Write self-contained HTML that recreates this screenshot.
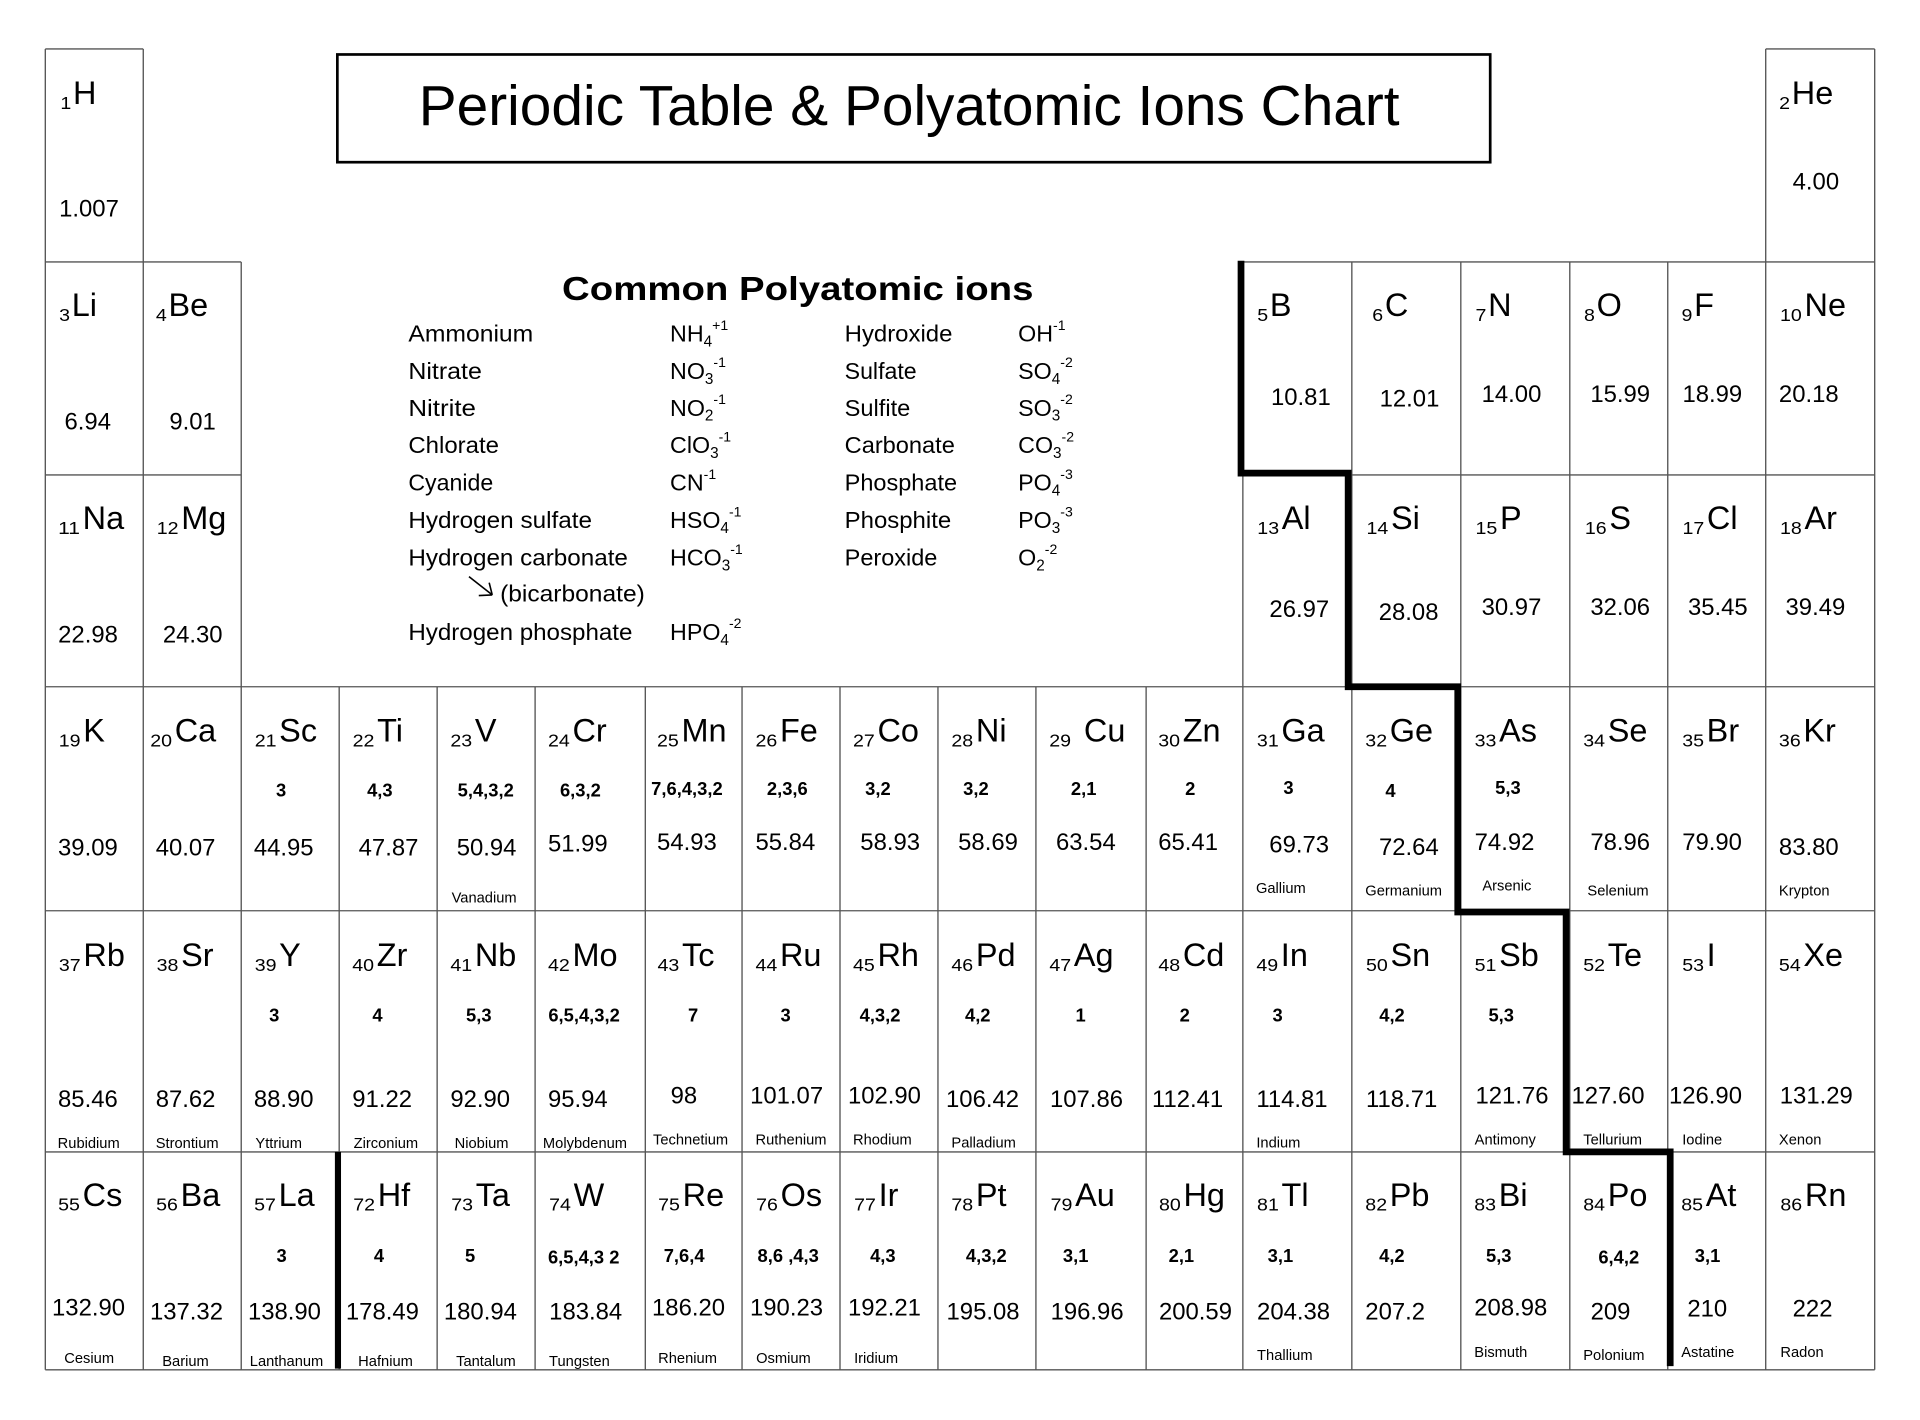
<!DOCTYPE html>
<html><head><meta charset="utf-8"><style>
html,body{margin:0;padding:0;background:#fff;overflow:hidden;}
svg{display:block;}
text{font-family:"Liberation Sans",Arial,sans-serif;fill:#000;}
.s{font-size:26.5px}
.n{font-size:14px}
.o{font-size:15px;font-weight:bold;text-anchor:middle}
.m{font-size:19.5px}
.e{font-size:12px}
.i{font-size:19px}
.b{font-size:12.5px}
.p{font-size:11.5px}
</style></head><body>
<svg xmlns="http://www.w3.org/2000/svg" width="1920" height="1420" viewBox="0 0 1568 1160" preserveAspectRatio="none">
<rect x="0" y="0" width="1568" height="1160" fill="#fff"/>
<!-- grid -->
<path fill="none" stroke="#555" stroke-width="1.1" d="
M37,40H117 M1442,40H1531
M37,214H197 M1015,214H1531
M37,388H197 M1015,388H1531
M37,561H1531 M37,744H1531 M37,941H1531 M37,1119H1531
M37,40V1119 M117,40V1119 M197,214V1119
M277,561V1119 M357,561V1119 M437,561V1119 M527,561V1119 M606,561V1119 M686,561V1119 M766,561V1119 M846,561V1119 M936,561V1119
M1015,214V1119 M1104,214V1119 M1193,214V1119 M1282,214V1119 M1362,214V1119 M1442,40V1119 M1531,40V1119"/>
<!-- heavy lines -->
<path fill="none" stroke="#000" stroke-width="5.5" stroke-linejoin="miter" d="M1013.5,213 V386.5 H1101 V561 H1190.5 V745 H1279 V941 H1364 V1116"/>
<path fill="none" stroke="#000" stroke-width="5" d="M276,941 V1118"/>

<!-- title -->
<rect x="275.5" y="44.5" width="941.5" height="88" fill="none" stroke="#000" stroke-width="2.2"/>
<text x="342" y="102" font-size="46" textLength="801" lengthAdjust="spacingAndGlyphs">Periodic Table &amp; Polyatomic Ions Chart</text>

<!-- polyatomic ions -->
<text x="459" y="245" font-size="27" font-weight="bold" textLength="385" lengthAdjust="spacingAndGlyphs">Common Polyatomic ions</text>

<text class="i" x="333.5" y="279" textLength="102" lengthAdjust="spacingAndGlyphs">Ammonium</text>
<text class="i" x="333.5" y="309.5" textLength="60" lengthAdjust="spacingAndGlyphs">Nitrate</text>
<text class="i" x="333.5" y="339.7" textLength="55.2" lengthAdjust="spacingAndGlyphs">Nitrite</text>
<text class="i" x="333.5" y="370.2" textLength="74" lengthAdjust="spacingAndGlyphs">Chlorate</text>
<text class="i" x="333.5" y="400.7" textLength="69.3" lengthAdjust="spacingAndGlyphs">Cyanide</text>
<text class="i" x="333.5" y="431.5" textLength="150" lengthAdjust="spacingAndGlyphs">Hydrogen sulfate</text>
<text class="i" x="333.5" y="462" textLength="179.3" lengthAdjust="spacingAndGlyphs">Hydrogen carbonate</text>
<text class="i" x="408.4" y="491.4" textLength="118.2" lengthAdjust="spacingAndGlyphs">(bicarbonate)</text>
<text class="i" x="333.5" y="522.7" textLength="183" lengthAdjust="spacingAndGlyphs">Hydrogen phosphate</text>
<path fill="none" stroke="#000" stroke-width="1.3" d="M383,471 L402,486 M402,486 L391,486.5 M402,486 L399.5,476"/>

<text class="i" x="547.2" y="279">NH<tspan class="b" dy="4">4</tspan><tspan class="p" dy="-13.5">+1</tspan></text>
<text class="i" x="547.2" y="309.5">NO<tspan class="b" dy="4">3</tspan><tspan class="p" dy="-13.5">-1</tspan></text>
<text class="i" x="547.2" y="339.7">NO<tspan class="b" dy="4">2</tspan><tspan class="p" dy="-13.5">-1</tspan></text>
<text class="i" x="547.2" y="370.2">ClO<tspan class="b" dy="4">3</tspan><tspan class="p" dy="-13.5">-1</tspan></text>
<text class="i" x="547.2" y="400.7">CN<tspan class="p" dy="-9.5">-1</tspan></text>
<text class="i" x="547.2" y="431.5">HSO<tspan class="b" dy="4">4</tspan><tspan class="p" dy="-13.5">-1</tspan></text>
<text class="i" x="547.2" y="462">HCO<tspan class="b" dy="4">3</tspan><tspan class="p" dy="-13.5">-1</tspan></text>
<text class="i" x="547.2" y="522.7">HPO<tspan class="b" dy="4">4</tspan><tspan class="p" dy="-13.5">-2</tspan></text>

<text class="i" x="689.8" y="279" textLength="88" lengthAdjust="spacingAndGlyphs">Hydroxide</text>
<text class="i" x="689.8" y="309.5" textLength="58.8" lengthAdjust="spacingAndGlyphs">Sulfate</text>
<text class="i" x="689.8" y="339.7" textLength="53.6" lengthAdjust="spacingAndGlyphs">Sulfite</text>
<text class="i" x="689.8" y="370.2" textLength="90" lengthAdjust="spacingAndGlyphs">Carbonate</text>
<text class="i" x="689.8" y="400.7" textLength="91.8" lengthAdjust="spacingAndGlyphs">Phosphate</text>
<text class="i" x="689.8" y="431.5" textLength="87" lengthAdjust="spacingAndGlyphs">Phosphite</text>
<text class="i" x="689.8" y="462" textLength="75.7" lengthAdjust="spacingAndGlyphs">Peroxide</text>

<text class="i" x="831.5" y="279">OH<tspan class="p" dy="-9.5">-1</tspan></text>
<text class="i" x="831.5" y="309.5">SO<tspan class="b" dy="4">4</tspan><tspan class="p" dy="-13.5">-2</tspan></text>
<text class="i" x="831.5" y="339.7">SO<tspan class="b" dy="4">3</tspan><tspan class="p" dy="-13.5">-2</tspan></text>
<text class="i" x="831.5" y="370.2">CO<tspan class="b" dy="4">3</tspan><tspan class="p" dy="-13.5">-2</tspan></text>
<text class="i" x="831.5" y="400.7">PO<tspan class="b" dy="4">4</tspan><tspan class="p" dy="-13.5">-3</tspan></text>
<text class="i" x="831.5" y="431.5">PO<tspan class="b" dy="4">3</tspan><tspan class="p" dy="-13.5">-3</tspan></text>
<text class="i" x="831.5" y="462">O<tspan class="b" dy="4">2</tspan><tspan class="p" dy="-13.5">-2</tspan></text>

<!-- ROW 1 -->
<text class="n" x="49.3" y="89" textLength="8.9" lengthAdjust="spacingAndGlyphs">1</text><text class="s" x="59.6" y="85">H</text>
<text class="m" x="48.3" y="177">1.007</text>
<text class="n" x="1453" y="89" textLength="8.9" lengthAdjust="spacingAndGlyphs">2</text><text class="s" x="1463.3" y="85">He</text>
<text class="m" x="1464" y="155">4.00</text>

<!-- ROW 2 -->
<text class="n" x="48.3" y="262.3" textLength="8.9" lengthAdjust="spacingAndGlyphs">3</text><text class="s" x="58.6" y="258.3">Li</text>
<text class="m" x="52.7" y="351">6.94</text>
<text class="n" x="127.3" y="262.3" textLength="8.9" lengthAdjust="spacingAndGlyphs">4</text><text class="s" x="137.6" y="258.3">Be</text>
<text class="m" x="138.3" y="351">9.01</text>
<text class="n" x="1026.8" y="262.3" textLength="8.9" lengthAdjust="spacingAndGlyphs">5</text><text class="s" x="1037.1" y="258.3">B</text>
<text class="m" x="1038" y="330.7">10.81</text>
<text class="n" x="1120.7" y="262.3" textLength="8.9" lengthAdjust="spacingAndGlyphs">6</text><text class="s" x="1131" y="258.3">C</text>
<text class="m" x="1126.7" y="332">12.01</text>
<text class="n" x="1205" y="262.3" textLength="8.9" lengthAdjust="spacingAndGlyphs">7</text><text class="s" x="1215.3" y="258.3">N</text>
<text class="m" x="1210" y="328.6">14.00</text>
<text class="n" x="1293.6" y="262.3" textLength="8.9" lengthAdjust="spacingAndGlyphs">8</text><text class="s" x="1303.9" y="258.3">O</text>
<text class="m" x="1298.8" y="328.6">15.99</text>
<text class="n" x="1373.2" y="262.3" textLength="8.9" lengthAdjust="spacingAndGlyphs">9</text><text class="s" x="1383.5" y="258.3">F</text>
<text class="m" x="1374" y="328.6">18.99</text>
<text class="n" x="1453.7" y="262.3" textLength="17.8" lengthAdjust="spacingAndGlyphs">10</text><text class="s" x="1473.7" y="258.3">Ne</text>
<text class="m" x="1452.8" y="328.6">20.18</text>

<!-- ROW 3 -->
<text class="n" x="47.5" y="436.3" textLength="17.8" lengthAdjust="spacingAndGlyphs">11</text><text class="s" x="67.5" y="432.3">Na</text>
<text class="m" x="47.5" y="525">22.98</text>
<text class="n" x="128" y="436.3" textLength="17.8" lengthAdjust="spacingAndGlyphs">12</text><text class="s" x="148" y="432.3">Mg</text>
<text class="m" x="133" y="525">24.30</text>
<text class="n" x="1026.8" y="436.3" textLength="17.8" lengthAdjust="spacingAndGlyphs">13</text><text class="s" x="1046.8" y="432.3">Al</text>
<text class="m" x="1036.7" y="504">26.97</text>
<text class="n" x="1116" y="436.3" textLength="17.8" lengthAdjust="spacingAndGlyphs">14</text><text class="s" x="1136" y="432.3">Si</text>
<text class="m" x="1126" y="506.3">28.08</text>
<text class="n" x="1205" y="436.3" textLength="17.8" lengthAdjust="spacingAndGlyphs">15</text><text class="s" x="1225" y="432.3">P</text>
<text class="m" x="1210" y="502.2">30.97</text>
<text class="n" x="1294.3" y="436.3" textLength="17.8" lengthAdjust="spacingAndGlyphs">16</text><text class="s" x="1314.3" y="432.3">S</text>
<text class="m" x="1298.8" y="502.2">32.06</text>
<text class="n" x="1374" y="436.3" textLength="17.8" lengthAdjust="spacingAndGlyphs">17</text><text class="s" x="1394" y="432.3">Cl</text>
<text class="m" x="1378.5" y="502.2">35.45</text>
<text class="n" x="1453.7" y="436.3" textLength="17.8" lengthAdjust="spacingAndGlyphs">18</text><text class="s" x="1473.7" y="432.3">Ar</text>
<text class="m" x="1458.2" y="502.2">39.49</text>

<!-- ROW 4 -->
<text class="n" x="48" y="609.7" textLength="17.8" lengthAdjust="spacingAndGlyphs">19</text><text class="s" x="68" y="605.7">K</text>
<text class="m" x="47.4" y="699">39.09</text>
<text class="n" x="122.7" y="609.7" textLength="17.8" lengthAdjust="spacingAndGlyphs">20</text><text class="s" x="142.7" y="605.7">Ca</text>
<text class="m" x="127.2" y="699">40.07</text>
<text class="n" x="208" y="609.7" textLength="17.8" lengthAdjust="spacingAndGlyphs">21</text><text class="s" x="228" y="605.7">Sc</text>
<text class="o" x="229.6" y="650.5">3</text>
<text class="m" x="207.3" y="699">44.95</text>
<text class="n" x="288" y="609.7" textLength="17.8" lengthAdjust="spacingAndGlyphs">22</text><text class="s" x="308" y="605.7">Ti</text>
<text class="o" x="310.2" y="650.5">4,3</text>
<text class="m" x="292.9" y="699">47.87</text>
<text class="n" x="367.8" y="609.7" textLength="17.8" lengthAdjust="spacingAndGlyphs">23</text><text class="s" x="387.8" y="605.7">V</text>
<text class="o" x="396.7" y="650.5">5,4,3,2</text>
<text class="m" x="373" y="699">50.94</text>
<text class="e" x="368.8" y="737.2">Vanadium</text>
<text class="n" x="447.5" y="609.7" textLength="17.8" lengthAdjust="spacingAndGlyphs">24</text><text class="s" x="467.5" y="605.7">Cr</text>
<text class="o" x="474" y="650.5">6,3,2</text>
<text class="m" x="447.5" y="695.6">51.99</text>
<text class="n" x="536.6" y="609.7" textLength="17.8" lengthAdjust="spacingAndGlyphs">25</text><text class="s" x="556.6" y="605.7">Mn</text>
<text class="o" x="561" y="649.3">7,6,4,3,2</text>
<text class="m" x="536.6" y="694.2">54.93</text>
<text class="n" x="617" y="609.7" textLength="17.8" lengthAdjust="spacingAndGlyphs">26</text><text class="s" x="637" y="605.7">Fe</text>
<text class="o" x="643" y="649.3">2,3,6</text>
<text class="m" x="617" y="694.2">55.84</text>
<text class="n" x="696.6" y="609.7" textLength="17.8" lengthAdjust="spacingAndGlyphs">27</text><text class="s" x="716.6" y="605.7">Co</text>
<text class="o" x="717" y="649.3">3,2</text>
<text class="m" x="702.6" y="694.2">58.93</text>
<text class="n" x="777" y="609.7" textLength="17.8" lengthAdjust="spacingAndGlyphs">28</text><text class="s" x="797" y="605.7">Ni</text>
<text class="o" x="797" y="649.3">3,2</text>
<text class="m" x="782.5" y="694.2">58.69</text>
<text class="n" x="856.9" y="609.7" textLength="17.8" lengthAdjust="spacingAndGlyphs">29</text><text class="s" x="885.2" y="605.7">Cu</text>
<text class="o" x="885" y="649.3">2,1</text>
<text class="m" x="862.4" y="694.2">63.54</text>
<text class="n" x="945.9" y="609.7" textLength="17.8" lengthAdjust="spacingAndGlyphs">30</text><text class="s" x="965.9" y="605.7">Zn</text>
<text class="o" x="972" y="649.3">2</text>
<text class="m" x="945.9" y="694.2">65.41</text>
<text class="n" x="1026.5" y="609.7" textLength="17.8" lengthAdjust="spacingAndGlyphs">31</text><text class="s" x="1046.5" y="605.7">Ga</text>
<text class="o" x="1052.3" y="648.7">3</text>
<text class="m" x="1036.6" y="696.3">69.73</text>
<text class="e" x="1025.7" y="729.6">Gallium</text>
<text class="n" x="1115" y="609.7" textLength="17.8" lengthAdjust="spacingAndGlyphs">32</text><text class="s" x="1135" y="605.7">Ge</text>
<text class="o" x="1135.6" y="651">4</text>
<text class="m" x="1126.2" y="698.3">72.64</text>
<text class="e" x="1115" y="731.7">Germanium</text>
<text class="n" x="1204.3" y="609.7" textLength="17.8" lengthAdjust="spacingAndGlyphs">33</text><text class="s" x="1224.3" y="605.7">As</text>
<text class="o" x="1231.5" y="648.7">5,3</text>
<text class="m" x="1204.3" y="694.2">74.92</text>
<text class="e" x="1230.6" y="727.4" text-anchor="middle">Arsenic</text>
<text class="n" x="1293" y="609.7" textLength="17.8" lengthAdjust="spacingAndGlyphs">34</text><text class="s" x="1313" y="605.7">Se</text>
<text class="m" x="1298.8" y="694.2">78.96</text>
<text class="e" x="1296.4" y="731.7">Selenium</text>
<text class="n" x="1373.8" y="609.7" textLength="17.8" lengthAdjust="spacingAndGlyphs">35</text><text class="s" x="1393.8" y="605.7">Br</text>
<text class="m" x="1373.8" y="694.2">79.90</text>
<text class="n" x="1452.8" y="609.7" textLength="17.8" lengthAdjust="spacingAndGlyphs">36</text><text class="s" x="1472.8" y="605.7">Kr</text>
<text class="m" x="1452.8" y="698.3">83.80</text>
<text class="e" x="1452.8" y="731.7">Krypton</text>

<!-- ROW 5 -->
<text class="n" x="48.1" y="793.2" textLength="17.8" lengthAdjust="spacingAndGlyphs">37</text><text class="s" x="68.1" y="789.2">Rb</text>
<text class="m" x="47.4" y="904.3">85.46</text>
<text class="e" x="47.1" y="937.8">Rubidium</text>
<text class="n" x="127.9" y="793.2" textLength="17.8" lengthAdjust="spacingAndGlyphs">38</text><text class="s" x="147.9" y="789.2">Sr</text>
<text class="m" x="127.2" y="904.3">87.62</text>
<text class="e" x="127.2" y="937.8">Strontium</text>
<text class="n" x="208" y="793.2" textLength="17.8" lengthAdjust="spacingAndGlyphs">39</text><text class="s" x="228" y="789.2">Y</text>
<text class="o" x="224" y="834.4">3</text>
<text class="m" x="207.3" y="904.3">88.90</text>
<text class="e" x="208.6" y="937.8">Yttrium</text>
<text class="n" x="287.7" y="793.2" textLength="17.8" lengthAdjust="spacingAndGlyphs">40</text><text class="s" x="307.7" y="789.2">Zr</text>
<text class="o" x="308.3" y="834.4">4</text>
<text class="m" x="287.7" y="904.3">91.22</text>
<text class="e" x="288.8" y="937.8">Zirconium</text>
<text class="n" x="367.8" y="793.2" textLength="17.8" lengthAdjust="spacingAndGlyphs">41</text><text class="s" x="387.8" y="789.2">Nb</text>
<text class="o" x="391" y="834.4">5,3</text>
<text class="m" x="367.8" y="904.3">92.90</text>
<text class="e" x="371.3" y="937.8">Niobium</text>
<text class="n" x="447.5" y="793.2" textLength="17.8" lengthAdjust="spacingAndGlyphs">42</text><text class="s" x="467.5" y="789.2">Mo</text>
<text class="o" x="477" y="834.4">6,5,4,3,2</text>
<text class="m" x="447.5" y="904.3">95.94</text>
<text class="e" x="443.4" y="937.8">Molybdenum</text>
<text class="n" x="537" y="793.2" textLength="17.8" lengthAdjust="spacingAndGlyphs">43</text><text class="s" x="557" y="789.2">Tc</text>
<text class="o" x="566" y="834.4">7</text>
<text class="m" x="547.7" y="901.6">98</text>
<text class="e" x="533.3" y="935">Technetium</text>
<text class="n" x="617" y="793.2" textLength="17.8" lengthAdjust="spacingAndGlyphs">44</text><text class="s" x="637" y="789.2">Ru</text>
<text class="o" x="641.6" y="834.4">3</text>
<text class="m" x="612.6" y="901.6">101.07</text>
<text class="e" x="617" y="935">Ruthenium</text>
<text class="n" x="696.6" y="793.2" textLength="17.8" lengthAdjust="spacingAndGlyphs">45</text><text class="s" x="716.6" y="789.2">Rh</text>
<text class="o" x="718.7" y="834.4">4,3,2</text>
<text class="m" x="692.5" y="901.6">102.90</text>
<text class="e" x="696.6" y="935">Rhodium</text>
<text class="n" x="777" y="793.2" textLength="17.8" lengthAdjust="spacingAndGlyphs">46</text><text class="s" x="797" y="789.2">Pd</text>
<text class="o" x="798.5" y="834.4">4,2</text>
<text class="m" x="772.6" y="904.3">106.42</text>
<text class="e" x="777" y="937.3">Palladium</text>
<text class="n" x="857" y="793.2" textLength="17.8" lengthAdjust="spacingAndGlyphs">47</text><text class="s" x="877" y="789.2">Ag</text>
<text class="o" x="882.5" y="834.4">1</text>
<text class="m" x="857.5" y="904.3">107.86</text>
<text class="n" x="946" y="793.2" textLength="17.8" lengthAdjust="spacingAndGlyphs">48</text><text class="s" x="966" y="789.2">Cd</text>
<text class="o" x="967.5" y="834.4">2</text>
<text class="m" x="940.8" y="904.3">112.41</text>
<text class="n" x="1026" y="793.2" textLength="17.8" lengthAdjust="spacingAndGlyphs">49</text><text class="s" x="1046" y="789.2">In</text>
<text class="o" x="1043.4" y="834.4">3</text>
<text class="m" x="1026" y="904.3">114.81</text>
<text class="e" x="1026" y="937.3">Indium</text>
<text class="n" x="1115.6" y="793.2" textLength="17.8" lengthAdjust="spacingAndGlyphs">50</text><text class="s" x="1135.6" y="789.2">Sn</text>
<text class="o" x="1136.8" y="834.4">4,2</text>
<text class="m" x="1115.6" y="904.3">118.71</text>
<text class="n" x="1204.3" y="793.2" textLength="17.8" lengthAdjust="spacingAndGlyphs">51</text><text class="s" x="1224.3" y="789.2">Sb</text>
<text class="o" x="1226" y="834.4">5,3</text>
<text class="m" x="1205" y="901.6">121.76</text>
<text class="e" x="1204.3" y="935">Antimony</text>
<text class="n" x="1293" y="793.2" textLength="17.8" lengthAdjust="spacingAndGlyphs">52</text><text class="s" x="1313" y="789.2">Te</text>
<text class="m" x="1283.4" y="901.6">127.60</text>
<text class="e" x="1293" y="935">Tellurium</text>
<text class="n" x="1373.8" y="793.2" textLength="17.8" lengthAdjust="spacingAndGlyphs">53</text><text class="s" x="1393.8" y="789.2">I</text>
<text class="m" x="1363" y="901.6">126.90</text>
<text class="e" x="1373.8" y="935">Iodine</text>
<text class="n" x="1452.8" y="793.2" textLength="17.8" lengthAdjust="spacingAndGlyphs">54</text><text class="s" x="1472.8" y="789.2">Xe</text>
<text class="m" x="1453.5" y="901.6">131.29</text>
<text class="e" x="1452.8" y="935">Xenon</text>

<!-- ROW 6 -->
<text class="n" x="47.5" y="989" textLength="17.8" lengthAdjust="spacingAndGlyphs">55</text><text class="s" x="67.5" y="985">Cs</text>
<text class="m" x="42.5" y="1074.7">132.90</text>
<text class="e" x="52.5" y="1113.4">Cesium</text>
<text class="n" x="127.5" y="989" textLength="17.8" lengthAdjust="spacingAndGlyphs">56</text><text class="s" x="147.5" y="985">Ba</text>
<text class="m" x="122.5" y="1078">137.32</text>
<text class="e" x="132.5" y="1116">Barium</text>
<text class="n" x="207.5" y="989" textLength="17.8" lengthAdjust="spacingAndGlyphs">57</text><text class="s" x="227.5" y="985">La</text>
<text class="o" x="230" y="1031">3</text>
<text class="m" x="202.5" y="1078">138.90</text>
<text class="e" x="204" y="1116">Lanthanum</text>
<text class="n" x="288.5" y="989" textLength="17.8" lengthAdjust="spacingAndGlyphs">72</text><text class="s" x="308.5" y="985">Hf</text>
<text class="o" x="309.5" y="1031">4</text>
<text class="m" x="282.5" y="1078">178.49</text>
<text class="e" x="292.5" y="1116">Hafnium</text>
<text class="n" x="368.5" y="989" textLength="17.8" lengthAdjust="spacingAndGlyphs">73</text><text class="s" x="388.5" y="985">Ta</text>
<text class="o" x="383.9" y="1031">5</text>
<text class="m" x="362.5" y="1078">180.94</text>
<text class="e" x="372.5" y="1116">Tantalum</text>
<text class="n" x="448.5" y="989" textLength="17.8" lengthAdjust="spacingAndGlyphs">74</text><text class="s" x="468.5" y="985">W</text>
<text class="o" x="476.7" y="1032.3">6,5,4,3 2</text>
<text class="m" x="448.5" y="1078">183.84</text>
<text class="e" x="448.4" y="1116">Tungsten</text>
<text class="n" x="537.5" y="989" textLength="17.8" lengthAdjust="spacingAndGlyphs">75</text><text class="s" x="557.5" y="985">Re</text>
<text class="o" x="558.7" y="1031">7,6,4</text>
<text class="m" x="532.5" y="1074.7">186.20</text>
<text class="e" x="537.5" y="1113.4">Rhenium</text>
<text class="n" x="617.5" y="989" textLength="17.8" lengthAdjust="spacingAndGlyphs">76</text><text class="s" x="637.5" y="985">Os</text>
<text class="o" x="643.7" y="1031">8,6 ,4,3</text>
<text class="m" x="612.5" y="1074.7">190.23</text>
<text class="e" x="617.5" y="1113.4">Osmium</text>
<text class="n" x="697.5" y="989" textLength="17.8" lengthAdjust="spacingAndGlyphs">77</text><text class="s" x="717.5" y="985">Ir</text>
<text class="o" x="721" y="1031">4,3</text>
<text class="m" x="692.5" y="1074.7">192.21</text>
<text class="e" x="697.5" y="1113.4">Iridium</text>
<text class="n" x="777" y="989" textLength="17.8" lengthAdjust="spacingAndGlyphs">78</text><text class="s" x="797" y="985">Pt</text>
<text class="o" x="805.5" y="1031">4,3,2</text>
<text class="m" x="773" y="1078">195.08</text>
<text class="n" x="858" y="989" textLength="17.8" lengthAdjust="spacingAndGlyphs">79</text><text class="s" x="878" y="985">Au</text>
<text class="o" x="878.5" y="1031">3,1</text>
<text class="m" x="858" y="1078">196.96</text>
<text class="n" x="946.5" y="989" textLength="17.8" lengthAdjust="spacingAndGlyphs">80</text><text class="s" x="966.5" y="985">Hg</text>
<text class="o" x="964.8" y="1031">2,1</text>
<text class="m" x="946.5" y="1078">200.59</text>
<text class="n" x="1026.6" y="989" textLength="17.8" lengthAdjust="spacingAndGlyphs">81</text><text class="s" x="1046.6" y="985">Tl</text>
<text class="o" x="1045.7" y="1031">3,1</text>
<text class="m" x="1026.6" y="1078">204.38</text>
<text class="e" x="1026.6" y="1111">Thallium</text>
<text class="n" x="1115" y="989" textLength="17.8" lengthAdjust="spacingAndGlyphs">82</text><text class="s" x="1135" y="985">Pb</text>
<text class="o" x="1136.7" y="1031">4,2</text>
<text class="m" x="1115" y="1078">207.2</text>
<text class="n" x="1204" y="989" textLength="17.8" lengthAdjust="spacingAndGlyphs">83</text><text class="s" x="1224" y="985">Bi</text>
<text class="o" x="1224" y="1031">5,3</text>
<text class="m" x="1204" y="1074.7">208.98</text>
<text class="e" x="1204" y="1108.5">Bismuth</text>
<text class="n" x="1293" y="989" textLength="17.8" lengthAdjust="spacingAndGlyphs">84</text><text class="s" x="1313" y="985">Po</text>
<text class="o" x="1322" y="1032.3">6,4,2</text>
<text class="m" x="1299" y="1078">209</text>
<text class="e" x="1293" y="1111">Polonium</text>
<text class="n" x="1373" y="989" textLength="17.8" lengthAdjust="spacingAndGlyphs">85</text><text class="s" x="1393" y="985">At</text>
<text class="o" x="1394.5" y="1031">3,1</text>
<text class="m" x="1378" y="1075.3">210</text>
<text class="e" x="1373" y="1108.5">Astatine</text>
<text class="n" x="1454" y="989" textLength="17.8" lengthAdjust="spacingAndGlyphs">86</text><text class="s" x="1474" y="985">Rn</text>
<text class="m" x="1464" y="1075.3">222</text>
<text class="e" x="1454" y="1108.5">Radon</text>
</svg>
</body></html>
